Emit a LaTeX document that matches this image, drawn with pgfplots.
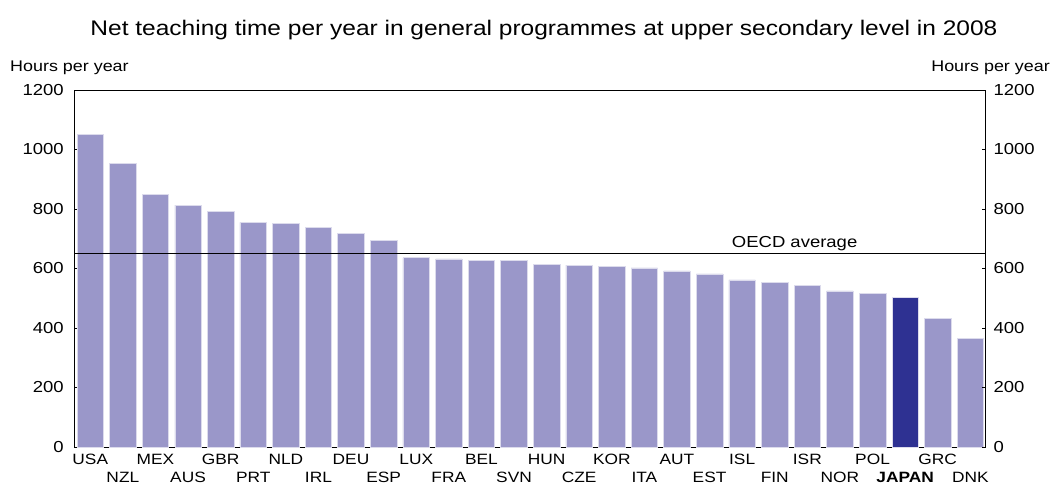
\documentclass[border=0pt]{standalone}
\usepackage{pgfplots}
\pgfplotsset{compat=1.18}
\usepackage{fontspec}
\setmainfont[FakeStretch=1.16]{Liberation Sans}
\definecolor{barfill}{HTML}{9A97C9}
\definecolor{japan}{HTML}{2E3192}
\begin{document}
\begin{tikzpicture}
\useasboundingbox (0bp,0bp) rectangle (1051bp,484bp);
\pgfplotsset{
  chartframe/.style={
    at={(74.3bp,37bp)}, anchor=south west,
    width=910.7bp, height=357bp, scale only axis,
    xmin=-0.49, xmax=27.45, ymin=0, ymax=1200,
    ytick={0,200,...,1200},
    tick align=inside, major tick length=3bp,
    tick style={black, line width=0.5bp},
    axis line style={line width=0.8bp},
    /pgf/number format/assume math mode=true,
    /pgf/number format/1000 sep={},
    yticklabel style={font=\fontsize{16}{18}\selectfont},
  }
}
\begin{axis}[chartframe,
  xtick={0,...,27},
  xticklabels={USA,{\strut\\NZL},MEX,{\strut\\AUS},GBR,{\strut\\PRT},NLD,{\strut\\IRL},DEU,{\strut\\ESP},LUX,{\strut\\FRA},BEL,{\strut\\SVN},HUN,{\strut\\CZE},KOR,{\strut\\ITA},AUT,{\strut\\EST},ISL,{\strut\\FIN},ISR,{\strut\\NOR},POL,{\strut\\\textbf{JAPAN}},GRC,{\strut\\DNK}},
  xticklabel style={font=\fontsize{15}{16.5}\selectfont, align=center, inner sep=1bp, yshift=-6bp},
  yticklabel style={xshift=-7bp},
  ytick pos=left, xtick pos=bottom,
  clip=false,
]
\addplot[ybar, bar width=26.5bp, fill=barfill, draw=barfill!35!white, line width=0.6bp] coordinates {
(0,1050) (1,952) (2,850) (3,813) (4,792) (5,755) (6,752) (7,738) (8,717) (9,695)
(10,636) (11,632) (12,628) (13,628) (14,613) (15,611) (16,607) (17,602) (18,592) (19,582)
(20,562) (21,554) (22,544) (23,525) (24,516) (26,431) (27,366)};
\addplot[ybar, bar width=26.5bp, fill=japan, draw=barfill!35!white, line width=0.6bp] coordinates {(25,503)};
\addplot[black, line width=0.8bp, no marks] coordinates {(-0.49,651) (27.45,651)};
\node[anchor=south east, inner sep=2bp, font=\fontsize{16}{18}\selectfont] at (axis cs:23.6,651) {OECD average};
\end{axis}
\begin{axis}[chartframe,
  axis x line=none, axis y line*=right,
  xtick=\empty,
  yticklabel style={xshift=5bp},
]
\addplot[draw=none] coordinates {(0,0)};
\end{axis}
\node[font=\fontsize{21.2}{23}\selectfont] at (544bp,454bp) {Net teaching time per year in general programmes at upper secondary level in 2008};
\node[anchor=west, inner sep=0pt, font=\fontsize{15.5}{17}\selectfont] at (10bp,416bp) {Hours per year};
\node[anchor=east, inner sep=0pt, font=\fontsize{15.5}{17}\selectfont] at (1050bp,416bp) {Hours per year};
\end{tikzpicture}
\end{document}
